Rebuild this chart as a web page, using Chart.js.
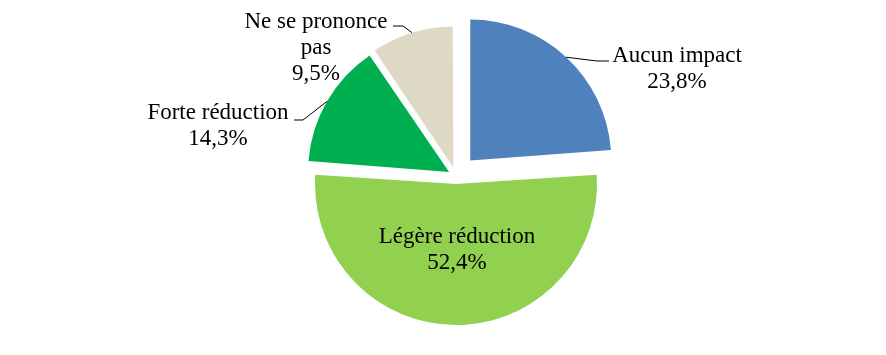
<!DOCTYPE html>
<html>
<head>
<meta charset="utf-8">
<script src="https://cdn.jsdelivr.net/npm/chart.js@4"></script>
<style>
  html, body { margin: 0; padding: 0; background: #fff; }
  #pie { display: block; }
</style>
</head>
<body>
<canvas id="pie" width="886" height="355"></canvas>
<script>
// données du graphique
const categories = ['Aucun impact', 'Légère réduction', 'Forte réduction', 'Ne se prononce pas'];
const shares = [23.8, 52.4, 14.3, 9.5];
// libellé affiché (coupé en lignes comme sur l'original)
const labelLines = [['Aucun impact'], ['Légère réduction'], ['Forte réduction'], ['Ne se prononce', 'pas']];

const SLICE_COLORS = ['#4F81BD', '#92D050', '#00B050', '#DDD9C4'];
// Chart.js v4 translate une part de offset/4 px
const SLICE_OFFSETS = [84, 32, 32, 36];
const RADIUS = 141;

// position des étiquettes : centre du texte, 1re ligne de base, coude du trait
const LABEL_POS = [
    { x: 677, y: 62, elbow: [597, 61], end: [609, 61] },
    { x: 457, y: 243, elbow: null },
    { x: 218, y: 119, elbow: [303, 120], end: [294, 120] },
    { x: 316, y: 28, elbow: [403, 26], end: [393, 26] }
];
const LINE_H = 26;

function fmtPct(v) {
    return v.toFixed(1).replace('.', ',') + '%';
}

const labelPlugin = {
    id: 'sliceLabels',
    beforeDatasetsDraw(chart) {
        // Chart.js agrandit le rayon des grandes parts décalées : on compense
        chart.getDatasetMeta(0).data.forEach((arc, i) => {
            const circ = arc.endAngle - arc.startAngle;
            const fix = 1 - Math.sin(Math.min(Math.PI, circ));
            arc.outerRadius = RADIUS - (SLICE_OFFSETS[i] / 4) * fix;
        });
    },
    afterDatasetsDraw(chart) {
        const ctx = chart.ctx;
        const arcs = chart.getDatasetMeta(0).data;
        ctx.save();
        ctx.font = '23px "Liberation Serif", "Times New Roman", serif';
        ctx.fillStyle = '#000';
        ctx.textAlign = 'center';
        ctx.textBaseline = 'alphabetic';

        arcs.forEach((arc, i) => {
            const pos = LABEL_POS[i];
            const lines = labelLines[i].concat([fmtPct(shares[i])]);
            lines.forEach((txt, k) => {
                ctx.fillText(txt, pos.x, pos.y + k * LINE_H);
            });

            if (pos.elbow) {
                // point du bord de la part, à l'angle médian (avec l'explosion)
                const mid = (arc.startAngle + arc.endAngle) / 2;
                const dist = RADIUS + SLICE_OFFSETS[i] / 4;
                const sx = arc.x + Math.cos(mid) * dist;
                const sy = arc.y + Math.sin(mid) * dist;
                ctx.beginPath();
                ctx.strokeStyle = '#000';
                ctx.lineWidth = 1;
                ctx.moveTo(sx, sy);
                ctx.lineTo(pos.elbow[0], pos.elbow[1]);
                ctx.lineTo(pos.end[0], pos.end[1]);
                ctx.stroke();
            }
        });
        ctx.restore();
    }
};

new Chart(document.getElementById('pie'), {
    type: 'pie',
    data: {
        labels: categories,
        datasets: [{
            data: shares,
            backgroundColor: SLICE_COLORS,
            offset: SLICE_OFFSETS,
            borderWidth: 0
        }]
    },
    options: {
        responsive: false,
        animation: false,
        radius: RADIUS,
        layout: { padding: { left: 26, right: 0, top: 0, bottom: 3 } },
        plugins: {
            legend: { display: false },
            tooltip: { enabled: false }
        }
    },
    plugins: [labelPlugin]
});
</script>
</body>
</html>
